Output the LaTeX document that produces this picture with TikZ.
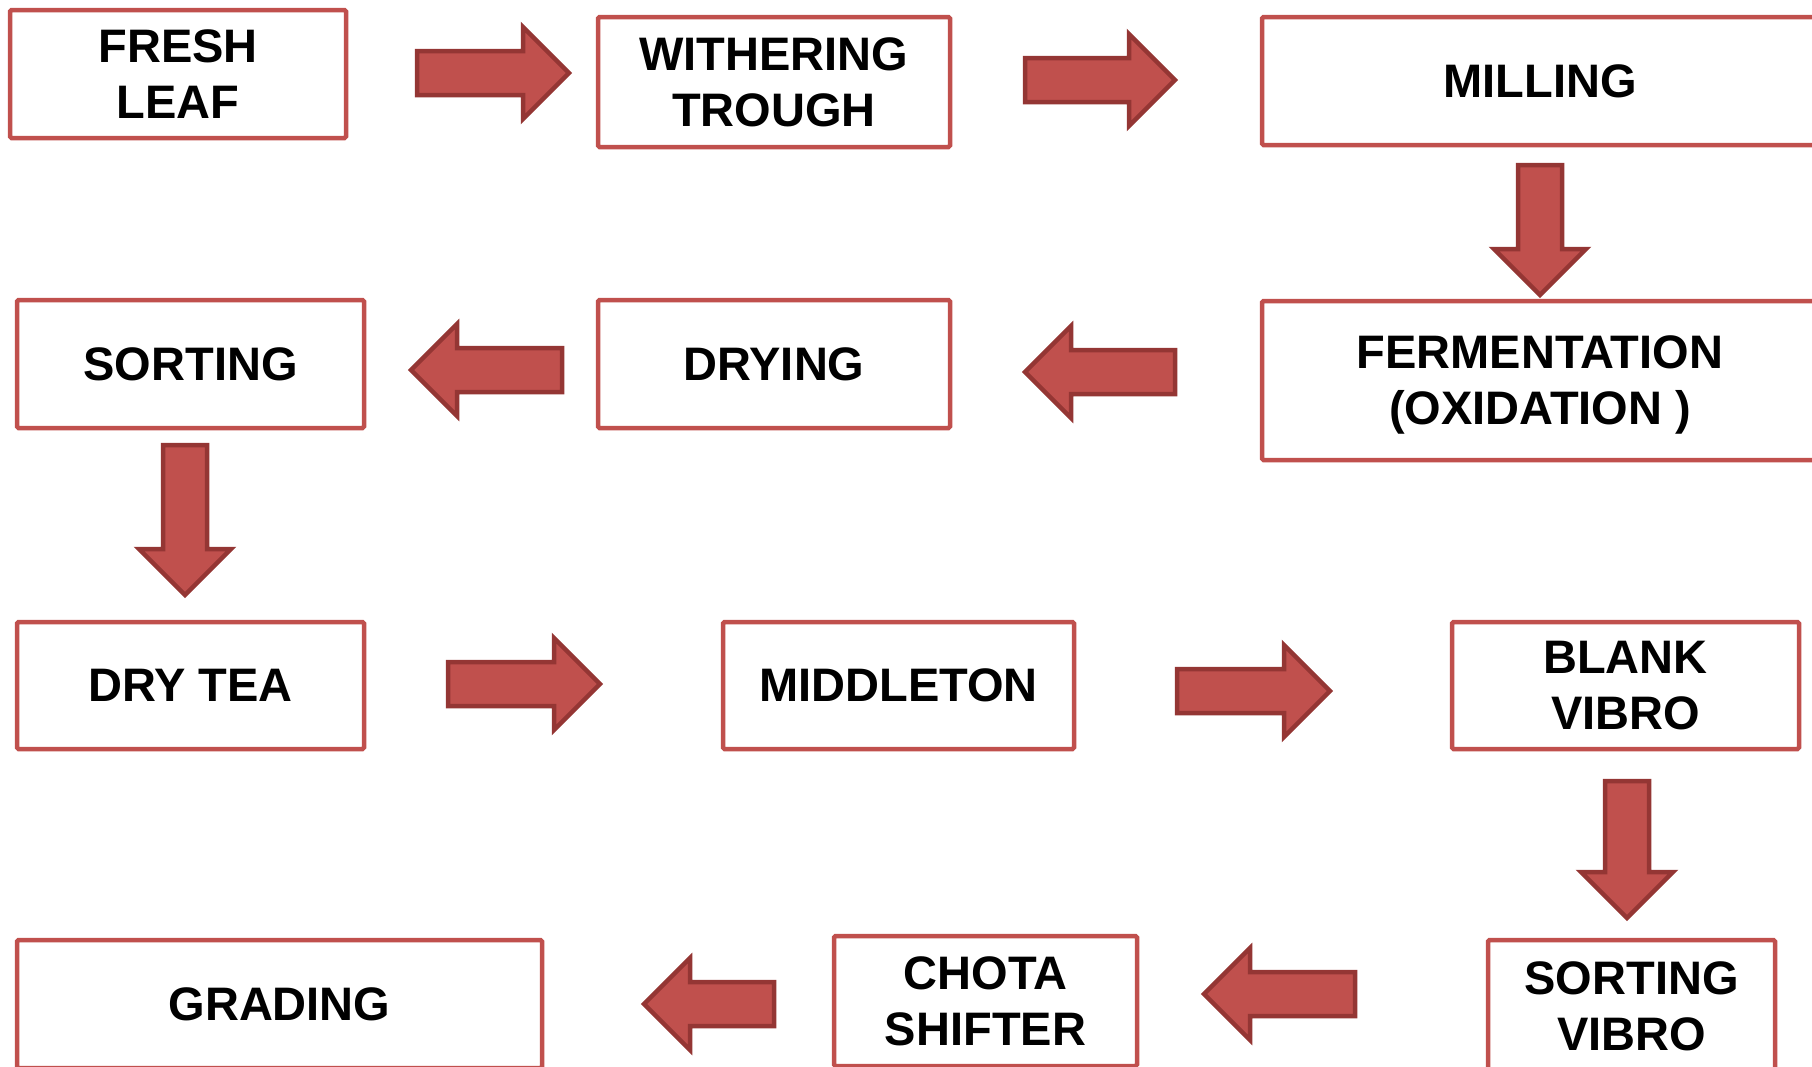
\documentclass[tikz,border=0pt]{standalone}
\usepackage{fontspec}
\setmainfont{Liberation Sans}
\definecolor{boxred}{HTML}{C0504D}
\definecolor{arrowedge}{HTML}{943634}
\newcommand\flowR[3]{\draw[blockarrow] ({#1},{#3-22}) -- ({#2-46},{#3-22}) -- ({#2-46},{#3-46}) -- ({#2},{#3}) -- ({#2-46},{#3+46}) -- ({#2-46},{#3+22}) -- ({#1},{#3+22}) -- cycle;}
\newcommand\flowL[3]{\draw[blockarrow] ({#1},{#3-22}) -- ({#2+46},{#3-22}) -- ({#2+46},{#3-46}) -- ({#2},{#3}) -- ({#2+46},{#3+46}) -- ({#2+46},{#3+22}) -- ({#1},{#3+22}) -- cycle;}
\newcommand\flowD[3]{\draw[blockarrow] ({#1-22},{#2}) -- ({#1-22},{#3-46}) -- ({#1-46},{#3-46}) -- ({#1},{#3}) -- ({#1+46},{#3-46}) -- ({#1+22},{#3-46}) -- ({#1+22},{#2}) -- cycle;}
\begin{document}
\begin{tikzpicture}[x=1pt,y=-1pt,
  stepbox/.style={draw=boxred, line width=4.5pt, fill=white, rounded corners=1.5pt,
    align=center, inner sep=0pt, text depth=0pt, font=\bfseries\fontsize{47}{56}\selectfont},
  blockarrow/.style={fill=boxred, draw=arrowedge, line width=4.5pt, line join=miter}]
\useasboundingbox (0,0) rectangle (1812,1066);
\clip (0,0) rectangle (1812,1066);

% row 1
\node[stepbox, minimum width=336, minimum height=128] (fresh) at (178,74) {FRESH\\LEAF};
\node[stepbox, minimum width=352, minimum height=130] (wither) at (774,82) {WITHERING\\TROUGH};
\node[stepbox, minimum width=556, minimum height=128] (milling) at (1540,81) {MILLING};
% row 2
\node[stepbox, minimum width=347, minimum height=128] (sorting) at (190.5,364) {SORTING};
\node[stepbox, minimum width=352, minimum height=128] (drying) at (774,364) {DRYING};
\node[stepbox, minimum width=556, minimum height=159] (ferm) at (1540,380.5) {FERMENTATION\\(OXIDATION )};
% row 3
\node[stepbox, minimum width=347, minimum height=127] (drytea) at (190.5,685.5) {DRY TEA};
\node[stepbox, minimum width=351, minimum height=127] (middleton) at (898.5,685.5) {MIDDLETON};
\node[stepbox, minimum width=347, minimum height=127] (blank) at (1625.5,685.5) {BLANK\\VIBRO};
% row 4
\node[stepbox, minimum width=525, minimum height=128] (grading) at (279.5,1004) {GRADING};
\node[stepbox, minimum width=303, minimum height=130] (chota) at (985.5,1001) {CHOTA\\SHIFTER};
\node[stepbox, minimum width=287, minimum height=132] (sortvibro) at (1631.5,1006) {SORTING\\VIBRO};

% block arrows
\flowR{417}{569}{73}
\flowR{1025}{1175}{80}
\flowD{1540}{165}{295}
\flowL{1175}{1025}{372}
\flowL{562}{411}{370}
\flowD{185}{445}{595}
\flowR{448}{600}{684}
\flowR{1177}{1330}{691}
\flowD{1627}{781}{918}
\flowL{1355}{1204}{994}
\flowL{774}{644}{1004}
\end{tikzpicture}
\end{document}
